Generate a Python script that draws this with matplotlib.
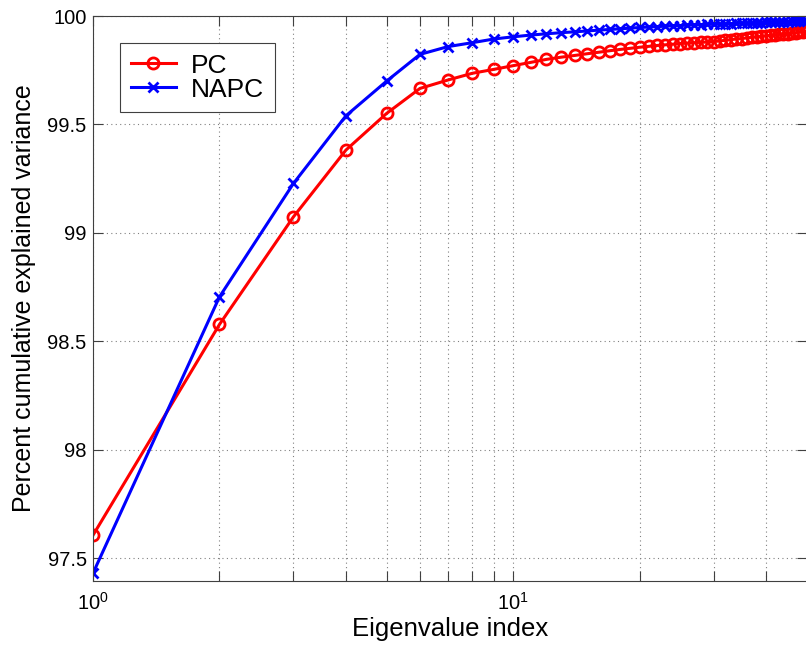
import numpy as np
import matplotlib
matplotlib.use('Agg')
import matplotlib.pyplot as plt
from matplotlib.ticker import LogLocator, MultipleLocator, NullFormatter, FuncFormatter

plt.rcParams['font.family'] = ['Liberation Sans', 'DejaVu Sans']
plt.rcParams['mathtext.fontset'] = 'custom'
plt.rcParams['mathtext.rm'] = 'Liberation Sans'

# eigenvalue index 1..50
idx = np.arange(1, 51)

# cumulative explained variance (%) for ordinary principal components
pc = [97.606, 98.578, 99.074, 99.382, 99.551, 99.666, 99.705, 99.736, 99.754, 99.771,
      99.786, 99.800, 99.810, 99.818, 99.826, 99.833, 99.840, 99.846, 99.851, 99.856,
      99.860, 99.864, 99.867, 99.870, 99.873, 99.875, 99.877, 99.879, 99.880, 99.882,
      99.885, 99.888, 99.891, 99.894, 99.896, 99.899, 99.902, 99.904, 99.906, 99.909,
      99.911, 99.913, 99.915, 99.917, 99.919, 99.921, 99.923, 99.925, 99.927, 99.929]

# same for noise-adjusted principal components
napc = [97.431, 98.705, 99.228, 99.540, 99.700, 99.823, 99.859, 99.877, 99.894, 99.904,
        99.912, 99.918, 99.923, 99.927, 99.931, 99.935, 99.938, 99.941, 99.944, 99.947,
        99.949, 99.951, 99.953, 99.955, 99.956, 99.958, 99.959, 99.960, 99.961, 99.962,
        99.963, 99.964, 99.965, 99.966, 99.967, 99.968, 99.969, 99.970, 99.970, 99.971,
        99.972, 99.972, 99.973, 99.974, 99.974, 99.975, 99.975, 99.976, 99.976, 99.977]

fig = plt.figure(figsize=(8.06, 6.5), dpi=100)
ax = fig.add_axes([93/806, 1 - 581/650, 1.001 - 93/806, (581 - 16)/650])

ax.semilogx(idx, pc, '-o', color='red', lw=2.2, ms=8, mfc='none', mew=2, label='PC')
ax.semilogx(idx, napc, '-x', color='blue', lw=2.2, ms=7, mew=2, label='NAPC')

ax.set_xlim(1, 50)
ax.set_ylim(97.395, 100)
ax.yaxis.set_major_locator(MultipleLocator(0.5))
ax.yaxis.set_major_formatter(FuncFormatter(lambda v, p: '%g' % v))
ax.xaxis.set_minor_locator(LogLocator(base=10, subs=np.arange(2, 10)))
ax.xaxis.set_minor_formatter(NullFormatter())

ax.grid(True, which='both', axis='x', color='#808080', ls=(0, (1, 3)), lw=0.8)
ax.grid(True, which='major', axis='y', color='#808080', ls=(0, (1, 3)), lw=0.8)

ax.tick_params(which='both', direction='in', top=True, right=True, length=7,
               width=0.8, color='#404040', labelsize=14.5)
ax.tick_params(axis='y', pad=4.5)
ax.tick_params(axis='x', pad=8)
for s in ax.spines.values():
    s.set_color('#404040')
    s.set_linewidth(0.8)

ax.set_xlabel('Eigenvalue index', fontsize=18.5, labelpad=2)
ax.set_ylabel('Percent cumulative explained variance', fontsize=18, labelpad=8)

leg = ax.legend(loc='upper left', bbox_to_anchor=(0.038, 0.952), borderaxespad=0,
                fontsize=19, fancybox=False, framealpha=1, edgecolor='#404040',
                handlelength=1.7, borderpad=0.4, labelspacing=0.0, handletextpad=0.6)
leg.get_frame().set_linewidth(0.8)

fig.savefig('out.png', dpi=100)
